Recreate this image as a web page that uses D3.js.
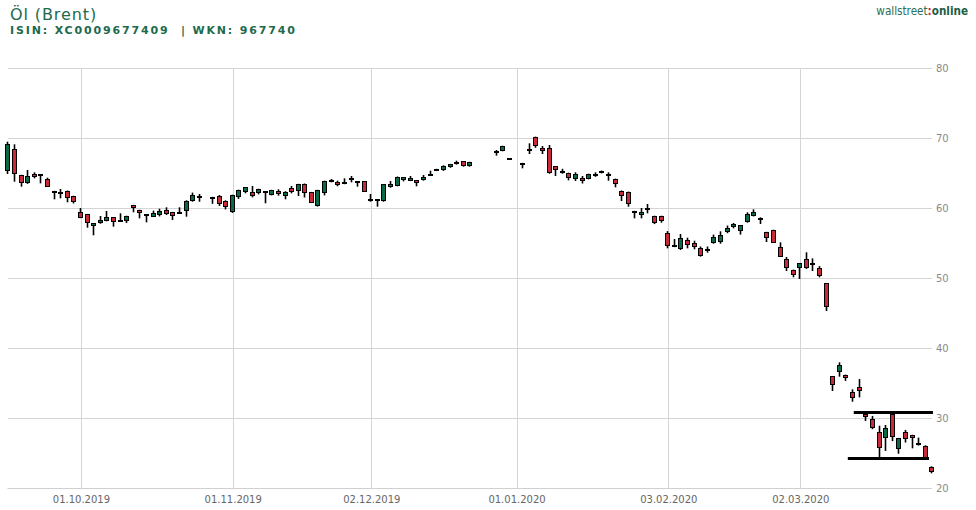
<!DOCTYPE html>
<html><head><meta charset="utf-8">
<script src="https://cdn.jsdelivr.net/npm/d3@7/dist/d3.min.js"></script>
<style>
html,body{margin:0;padding:0;background:#fff;}
svg{display:block;font-family:"DejaVu Sans",Verdana,sans-serif;}
</style></head>
<body>
<svg id="chart" width="976" height="510"></svg>
<script>
// ---- data (null = no quote that day) ----
const startDate = "2019-09-16";
const endDate = "2020-03-30";
const openV = [65.33,68.5,64.71,63.52,64.86,64.65,64.14,62.43,62.29,62.43,61.71,59.43,59.1,57.47,57.81,58.19,58.67,58.25,58.19,60.38,
59.71,59.07,58.76,59.05,59.71,59.38,59.35,59.52,61.05,61.6,null,61.24,61.76,61.05,59.38,61.52,62.24,62.33,62.1,62.2,
61.9,62.38,61.71,62.81,62.43,63.43,62.24,60.33,62.1,63.88,63.67,63.43,64.12,63.78,63.81,61.29,61.12,61.05,62.95,63.19,
64.05,63.9,63.95,63.95,64.7,65.36,65.38,65.81,66.36,66.67,65.95,null,null,null,68.2,68.19,66.93,null,66.43,68.27,
70.14,68.57,68.52,65.95,65.17,65.0,64.19,64.29,64.19,64.9,65.0,64.52,64.14,62.43,62.29,59.57,59.05,60.0,58.86,58.86,
56.43,54.5,54.1,55.38,55.0,54.24,53.81,55.05,55.19,56.52,57.24,56.76,58.05,58.9,58.41,56.52,56.81,54.38,52.67,51.14,
51.48,52.67,51.9,51.38,49.24,35.95,36.52,36.14,33.67,34.38,30.52,29.81,28.05,27.1,30.57,25.57,28.05,27.52,26.27,26.0,23.05];
const highV = [69.47,69.1,64.75,65.43,65.1,64.7,64.33,62.45,62.71,62.5,61.75,60.0,59.15,57.85,58.86,59.57,58.7,59.24,58.9,60.45,
59.75,59.1,59.62,59.9,60.1,59.45,60.1,61.1,62.2,62.0,null,61.6,61.85,61.1,61.9,62.62,63.0,63.14,62.75,62.35,
62.6,62.67,62.4,63.14,63.45,63.5,62.3,62.6,63.9,64.14,63.9,64.24,64.57,63.8,63.85,62.0,61.2,63.4,63.86,64.5,
64.4,64.57,64.0,64.71,65.33,65.6,66.1,66.3,66.76,66.7,66.6,null,null,null,68.28,68.9,66.93,null,66.45,69.24,
70.2,68.86,69.0,66.0,65.6,65.05,65.1,64.57,64.9,65.1,65.35,65.1,64.2,62.5,62.35,59.6,60.0,60.57,58.9,58.9,
56.7,55.57,56.29,55.76,55.33,54.5,54.5,56.2,56.67,57.5,57.86,57.55,59.38,59.81,58.67,56.6,56.9,55.1,53.0,51.2,
52.15,53.67,52.8,51.7,49.3,36.0,37.95,36.2,34.1,35.57,30.6,30.3,28.9,29.0,30.8,27.15,28.3,27.6,27.2,26.1,23.1];
const lowV = [64.86,63.76,63.05,63.45,64.24,63.52,63.0,61.24,61.38,60.81,60.65,58.55,57.19,56.1,57.75,58.1,57.33,58.1,57.85,59.38,
58.52,57.95,58.7,58.8,59.0,58.29,59.2,58.76,60.9,60.9,null,60.6,60.3,59.8,59.3,61.3,62.1,61.52,61.95,60.67,
61.8,61.76,61.24,62.1,61.71,61.5,60.7,60.2,61.8,63.67,63.1,63.4,63.67,63.05,62.3,60.9,60.19,60.9,62.9,63.1,
63.8,63.85,63.1,63.9,64.65,65.3,65.3,65.75,66.2,65.9,65.9,null,null,null,67.48,68.1,66.93,null,65.67,67.71,
68.6,67.71,64.9,64.57,64.9,63.95,63.86,63.5,64.1,64.45,64.95,63.9,62.95,61.0,60.19,58.52,58.52,59.24,57.7,57.9,
54.24,54.4,54.0,54.24,54.1,53.05,53.62,54.9,54.9,56.4,57.1,56.2,57.9,58.8,57.71,55.14,55.0,53.0,51.0,50.1,
49.86,51.3,51.0,50.1,45.29,33.86,35.9,35.3,32.33,32.95,29.57,28.4,24.33,25.3,26.7,24.9,26.5,25.67,26.05,24.2,22.1];
const closeV = [69.14,64.8,63.52,64.57,64.38,64.6,63.05,62.1,61.96,61.38,60.81,58.62,57.81,57.81,58.29,58.67,57.95,58.15,58.86,60.05,
59.24,59.03,59.24,59.52,59.1,58.9,59.3,61.05,61.81,61.64,null,61.52,60.57,60.19,61.81,62.57,62.95,61.76,62.67,62.3,
62.52,62.05,62.33,62.24,63.38,62.1,60.76,62.57,63.86,63.92,63.33,63.67,64.16,63.74,62.33,60.95,61.16,63.38,63.38,64.43,
64.38,64.24,63.52,64.43,64.72,65.4,66.05,66.24,66.4,65.95,66.57,null,null,null,68.1,68.86,66.93,null,66.1,68.31,
68.9,68.19,64.95,65.48,65.21,64.33,64.86,63.9,64.86,64.52,65.29,64.86,63.38,61.67,60.52,59.24,59.43,59.67,57.81,58.14,
54.62,54.54,55.67,54.67,54.38,53.1,54.1,55.86,56.14,57.14,57.67,57.52,59.1,59.38,58.45,55.76,55.05,53.05,51.48,50.38,
52.1,51.38,51.94,50.24,45.9,34.71,37.52,35.76,32.9,33.81,30.1,28.52,25.67,28.52,27.24,27.1,26.95,27.19,26.31,24.33,22.24];
const xTickDates = ["2019-10-01","2019-11-01","2019-12-02","2020-01-01","2020-02-03","2020-03-02"];
const xTickLabels = ["01.10.2019","01.11.2019","02.12.2019","01.01.2020","03.02.2020","02.03.2020"];
const yTicks = [20,30,40,50,60,70,80];
// drawn support / resistance lines: level, from/to as fractional trading-day positions
const levelValues = [30.8, 24.2];
const levelFrom = [128.1, 127.2];
const levelTo = [140.1, 139.5];

// ---- build ----
const parse = d3.utcParse("%Y-%m-%d");
const days = d3.utcDay.range(parse(startDate), d3.utcDay.offset(parse(endDate), 1))
  .filter(d => d.getUTCDay() !== 0 && d.getUTCDay() !== 6);
const dayIndex = new Map(days.map((d, i) => [+d, i]));
const candles = days.map((d, i) => ({i, date: d, o: openV[i], h: highV[i], l: lowV[i], c: closeV[i]}))
  .filter(d => d.o != null);

const svg = d3.select("#chart");
const pL = 7.5, pR = 931.5, pT = 68, pB = 488;
const x = d3.scaleLinear().domain([0, days.length - 1]).range([8.3, 932.3]);
const y = d3.scaleLinear().domain([20, 80]).range([pB, pT]);

// header
svg.append("text").attr("x", 10).attr("y", 20).attr("font-size", 16).attr("letter-spacing", 0.9)
  .attr("fill", "#1d6a4d").text("Öl (Brent)");
svg.append("text").attr("x", 10).attr("y", 34).attr("font-size", 11).attr("font-weight", "bold")
  .attr("letter-spacing", 1.85).attr("fill", "#1d6a4d").attr("xml:space", "preserve")
  .text("ISIN: XC0009677409  | WKN: 967740");
const logo = svg.append("text").attr("x", 968).attr("y", 15).attr("text-anchor", "end")
  .attr("font-size", 11.6).attr("font-family", "'DejaVu Sans Condensed','DejaVu Sans',sans-serif");
logo.append("tspan").attr("fill", "#2b6e55").text("wallstreet");
logo.append("tspan").attr("fill", "#d21f3c").attr("font-weight", "bold").text(":");
logo.append("tspan").attr("fill", "#1d5e45").attr("font-weight", "bold").text("online");

// y grid + right axis
const yAxis = d3.axisRight(y).tickValues(yTicks).tickSize(-(pR - pL)).tickPadding(5).tickFormat(d3.format("d"));
const gy = svg.append("g").attr("transform", `translate(${pR},0)`).call(yAxis);
gy.select(".domain").remove();
gy.selectAll(".tick line").attr("stroke", "#d4d4d4").attr("shape-rendering", "crispEdges");
gy.selectAll(".tick text").attr("fill", "#8a8a8a").attr("font-size", 10).attr("font-family", "'DejaVu Sans',sans-serif").attr("x", 4.5);

// x grid + bottom axis
const tickIdx = xTickDates.map(s => dayIndex.get(+parse(s)));
const xAxis = d3.axisBottom(x).tickValues(tickIdx).tickSize(-(pB - pT)).tickPadding(7)
  .tickFormat((d, k) => xTickLabels[k]);
const gx = svg.append("g").attr("transform", `translate(0,${pB + 0.5})`).call(xAxis);
gx.select(".domain").remove();
gx.selectAll(".tick line").attr("stroke", "#d4d4d4").attr("shape-rendering", "crispEdges");
gx.selectAll(".tick text").attr("fill", "#666").attr("font-size", 10).attr("font-family", "'DejaVu Sans',sans-serif");
svg.append("line").attr("x1", pL).attr("x2", pR).attr("y1", pB + 0.5).attr("y2", pB + 0.5)
  .attr("stroke", "#d0d0d0");

// candles
const g = svg.append("g");
candles.forEach(d => {
  const cx = Math.round(x(d.i));
  const up = d.c > d.o;
  const flat = Math.abs(d.c - d.o) < 0.1;
  const yt = Math.round(y(Math.max(d.o, d.c))), yb = Math.round(y(Math.min(d.o, d.c)));
  g.append("line").attr("x1", cx - 0.5).attr("x2", cx - 0.5)
    .attr("y1", y(d.h)).attr("y2", y(d.l)).attr("stroke", "#000").attr("stroke-width", 1.6);
  if (flat) {
    g.append("rect").attr("x", cx - 3).attr("y", yt - 1).attr("width", 5).attr("height", 2).attr("fill", "#000");
  } else {
    g.append("rect").attr("x", cx - 2.5).attr("y", yt + 0.5).attr("width", 4).attr("height", Math.max(1, yb - yt - 1))
      .attr("fill", up ? "#0b6a45" : "#c92a3a").attr("stroke", "#000").attr("stroke-width", 1);
  }
});

// support / resistance lines
levelValues.forEach((v, k) => {
  svg.append("line").attr("x1", x(levelFrom[k])).attr("x2", x(levelTo[k]))
    .attr("y1", y(v)).attr("y2", y(v)).attr("stroke", "#000").attr("stroke-width", 3);
});
</script>
</body></html>
